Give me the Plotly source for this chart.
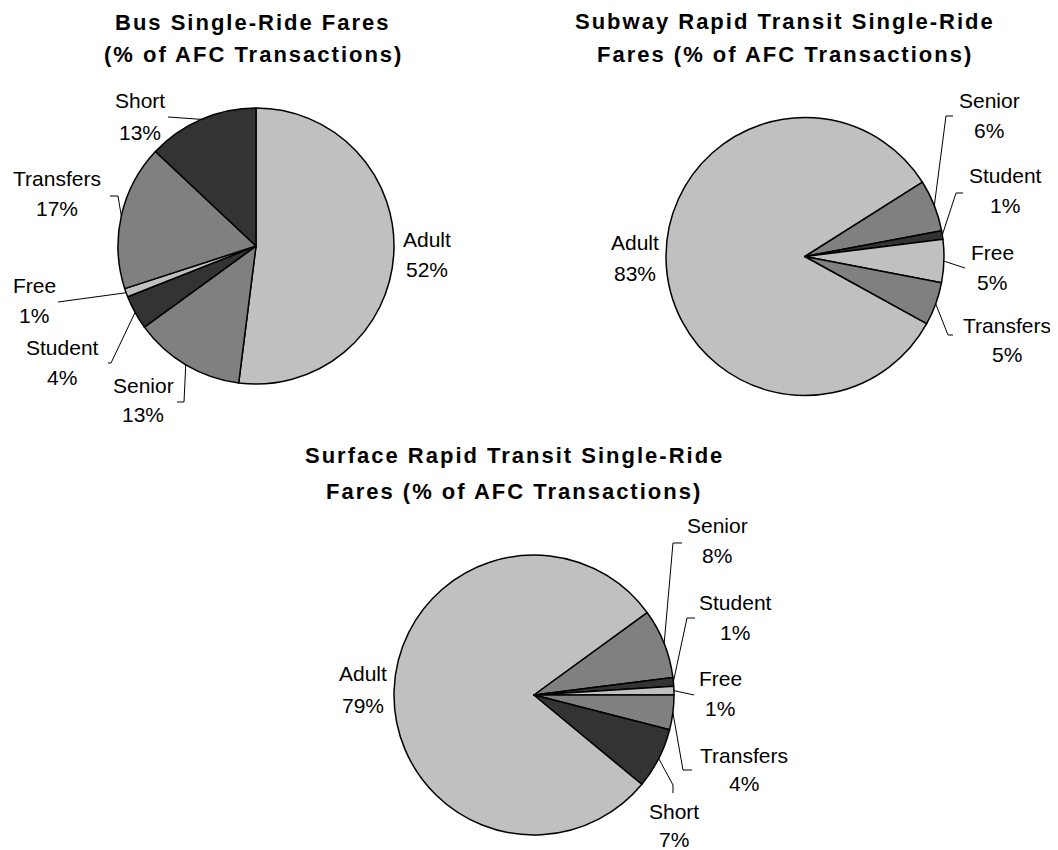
import math
import plotly.graph_objects as go

# window size and the page's default body margin (the figure sits 8px in)
WIN_W, WIN_H = 1058, 850
OFF = 8
W, H = WIN_W - OFF, WIN_H - OFF

# ---------------- data ----------------
bus_labels = ["Adult", "Senior", "Student", "Free", "Transfers", "Short"]
bus_values = [52, 13, 4, 1, 17, 13]

subway_labels = ["Adult", "Senior", "Student", "Free", "Transfers"]
subway_values = [83, 6, 1, 5, 5]

surface_labels = ["Adult", "Senior", "Student", "Free", "Transfers", "Short"]
surface_values = [79, 8, 1, 1, 4, 7]

bus_title = ["Bus Single-Ride Fares", "(% of AFC Transactions)"]
subway_title = ["Subway Rapid Transit Single-Ride", "Fares (% of AFC Transactions)"]
surface_title = ["Surface Rapid Transit Single-Ride", "Fares (% of AFC Transactions)"]

# ---------------- styles / layout ----------------
LIGHT, MID, DARK = "#C0C0C0", "#808080", "#333333"
bus_colors = [LIGHT, MID, DARK, LIGHT, MID, DARK]
subway_colors = [LIGHT, MID, DARK, LIGHT, MID]
surface_colors = [LIGHT, MID, DARK, LIGHT, MID, DARK]

FONT = "Liberation Sans, Arial, sans-serif"

# positions below are in window pixels (top-left origin)
pies = [
    dict(labels=bus_labels, values=bus_values, colors=bus_colors, title=bus_title,
         cx=256, cy=246, r=138, rotation=0, title_x=253, title_y=(22, 55),
         label_pos=[(427, 239, 270), (143, 385, 415), (62, 347, 377),
                    (34, 285, 315), (57, 178, 208), (140, 100, 132)],
         leaders=[None, [(177, 402), (184, 402)], [(108, 363), (111, 363)],
                  [(58, 302)], [(110, 196), (118, 196)], [(168, 117)]]),
    dict(labels=subway_labels, values=subway_values, colors=subway_colors, title=subway_title,
         cx=805, cy=256.5, r=139, rotation=118.9, title_x=785, title_y=(21, 55),
         label_pos=[(635, 243, 274), (989, 100, 130), (1005, 175, 205),
                    (992, 252, 282), (1007, 325, 355)],
         leaders=[None, [(953, 116), (946, 116)], [(963, 193), (956, 193)],
                  [(965, 268)], [(953, 335), (948, 335)]]),
    dict(labels=surface_labels, values=surface_values, colors=surface_colors, title=surface_title,
         cx=534, cy=695, r=140, rotation=129.6, title_x=514, title_y=(455, 491),
         label_pos=[(363, 673, 705), (717, 525, 555), (735, 602, 632),
                    (720, 678, 708), (744, 755, 783), (674, 811, 839)],
         leaders=[None, [(682, 543), (673, 543)], [(695, 618), (687, 618)],
                  [(694, 695)], [(692, 770), (683, 770)], [(673, 793), (673, 785)]]),
]


def px(x):
    return (x - OFF) / W


def py(y):
    return 1 - (y - OFF) / H


fig = go.Figure()
annotations = []
shapes = []

for p in pies:
    cx, cy, r = p["cx"], p["cy"], p["r"]
    fig.add_trace(go.Pie(
        labels=p["labels"], values=p["values"],
        sort=False, direction="clockwise", rotation=p["rotation"],
        marker=dict(colors=p["colors"], line=dict(color="black", width=1.5)),
        textinfo="none", hoverinfo="label+percent", showlegend=False,
        domain=dict(x=[px(cx - r), px(cx + r)], y=[py(cy + r), py(cy - r)]),
    ))

    # titles
    for line, ty in zip(p["title"], p["title_y"]):
        annotations.append(dict(
            text=f'<span style="letter-spacing:2px">{line}</span>',
            x=px(p["title_x"]), y=py(ty), xref="paper", yref="paper",
            xanchor="center", yanchor="middle", showarrow=False,
            font=dict(family=FONT, size=22, color="black", weight="bold"),
        ))

    total = sum(p["values"])
    start = p["rotation"]
    for lab, val, pos, lead in zip(p["labels"], p["values"], p["label_pos"], p["leaders"]):
        span = val / total * 360.0
        mid = math.radians(start + span / 2)
        start += span
        lx, ny, pcty = pos
        pct = f"{val / total * 100:.0f}%"
        for txt, yy in ((lab, ny), (pct, pcty)):
            annotations.append(dict(
                text=txt, x=px(lx), y=py(yy), xref="paper", yref="paper",
                xanchor="center", yanchor="middle", showarrow=False,
                font=dict(family=FONT, size=21, color="black"),
            ))
        if lead:
            ex = cx + r * math.sin(mid)
            ey = cy - r * math.cos(mid)
            pts = list(lead) + [(ex, ey)]
            path = "M " + " L ".join(f"{px(a):.5f},{py(b):.5f}" for a, b in pts)
            shapes.append(dict(type="path", path=path, xref="paper", yref="paper",
                               line=dict(color="black", width=1)))

fig.update_layout(
    width=W, height=H, autosize=False,
    margin=dict(l=0, r=0, t=0, b=0),
    paper_bgcolor="white", plot_bgcolor="white",
    annotations=annotations, shapes=shapes,
)

fig.write_html("out.html")
